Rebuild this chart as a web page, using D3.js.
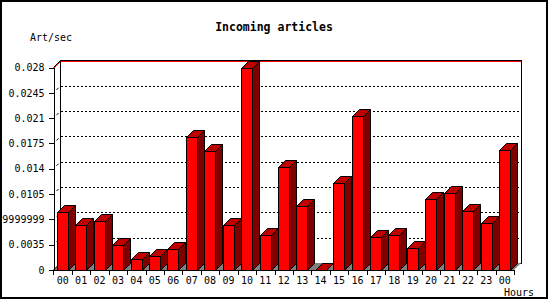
<!DOCTYPE html>
<html>
<head>
<meta charset="utf-8">
<script src="https://cdn.jsdelivr.net/npm/d3@7"></script>
<style>
  body { margin: 0; background: #fff; }
  svg { display: block; }
  text { font-family: "DejaVu Sans Mono", "Liberation Mono", monospace; }
</style>
</head>
<body>
<svg id="chart" width="550" height="300"></svg>
<script>
// chart data
const hours = ['00', '01', '02', '03', '04', '05', '06', '07', '08', '09', '10', '11',
               '12', '13', '14', '15', '16', '17', '18', '19', '20', '21', '22', '23', '00'];
const rates = [0.0080, 0.0062, 0.0068, 0.0034, 0.0015, 0.0020, 0.0029, 0.0184, 0.0164, 0.0062,
               0.0279, 0.0048, 0.0142, 0.0089, 0, 0.0120, 0.0213, 0.0045, 0.0048, 0.0031,
               0.0098, 0.0106, 0.0081, 0.0065, 0.0166];
const y_ticks = [0, 0.0035, 0.007, 0.0105, 0.014, 0.0175, 0.021, 0.0245, 0.028];
const y_tick_labels = ['0', '0.0035', '0.0069999999', '0.0105', '0.014', '0.0175', '0.021', '0.0245', '0.028'];

const title = 'Incoming articles';
const y_title = 'Art/sec';
const x_title = 'Hours';

const width = 550, height = 300;
const plot = {left: 53.5, right: 514, top: 67.5, bottom: 270};
const depth = 7;
const bar_width = 11;
const bar_offset = 3.4;

const svg = d3.select('#chart');

// outer frame
svg.append('rect')
    .attr('x', 1).attr('y', 1)
    .attr('width', 546).attr('height', 297)
    .attr('fill', 'white').attr('stroke', 'black').attr('stroke-width', 2);

const x = d3.scaleBand()
    .domain(d3.range(hours.length))
    .range([plot.left, plot.right])
    .padding(0);
const y = d3.scaleLinear()
    .domain([0, y_ticks[y_ticks.length - 1]])
    .range([plot.bottom, plot.top]);

// back wall
const back = {x0: plot.left + depth, x1: plot.right + depth, y0: plot.top - depth, y1: plot.bottom - depth};
svg.append('rect')
    .attr('x', back.x0).attr('y', back.y0)
    .attr('width', back.x1 - back.x0).attr('height', back.y1 - back.y0)
    .attr('fill', 'white').attr('stroke', 'black').attr('shape-rendering', 'crispEdges');
svg.append('line')
    .attr('x1', back.x0).attr('x2', back.x1)
    .attr('y1', back.y0 + 1).attr('y2', back.y0 + 1)
    .attr('stroke', 'red').attr('shape-rendering', 'crispEdges');
svg.append('line')
    .attr('x1', plot.left).attr('y1', plot.top)
    .attr('x2', back.x0).attr('y2', back.y0)
    .attr('stroke', 'black');
svg.append('line')
    .attr('x1', plot.left).attr('y1', plot.top + 1)
    .attr('x2', back.x0).attr('y2', back.y0 + 1)
    .attr('stroke', 'red');

// dotted grid on the back wall
svg.append('g').selectAll('line')
    .data(y_ticks.slice(1, -1))
    .join('line')
    .attr('x1', back.x0).attr('x2', back.x1)
    .attr('y1', d => Math.round(y(d) - depth) + 0.5)
    .attr('y2', d => Math.round(y(d) - depth) + 0.5)
    .attr('stroke', 'black')
    .attr('stroke-dasharray', '2,2')
    .attr('shape-rendering', 'crispEdges');

// little depth marks between axis and wall
svg.append('g').selectAll('line')
    .data(y_ticks.slice(1, -1))
    .join('line')
    .attr('x1', plot.left + 3).attr('y1', d => y(d) - 3)
    .attr('x2', plot.left + 5).attr('y2', d => y(d) - 5)
    .attr('stroke', 'black');

// floor
svg.append('path')
    .attr('d', `M${plot.left},${plot.bottom}L${back.x0},${back.y1}L${back.x1},${back.y1}L${plot.right},${plot.bottom}Z`)
    .attr('fill', '#808080');
svg.append('line')
    .attr('x1', plot.left).attr('y1', plot.bottom)
    .attr('x2', back.x0).attr('y2', back.y1)
    .attr('stroke', 'black');

// bars
const bars = svg.append('g')
    .attr('stroke', 'black')
    .attr('stroke-width', 1)
    .attr('stroke-linejoin', 'miter');

rates.forEach((v, i) => {
    const x0 = Math.round(x(i) + bar_offset) + 0.5;
    const x1 = x0 + bar_width;
    const y0 = Math.round(y(v)) + 0.5;
    const base = plot.bottom + 0.5;
    const g = bars.append('g');
    g.append('path')
        .attr('d', `M${x1},${base}L${x1},${y0}L${x1 + depth},${y0 - depth}L${x1 + depth},${base - depth}Z`)
        .attr('fill', '#800000');
    g.append('path')
        .attr('d', `M${x0},${y0}L${x0 + depth},${y0 - depth}L${x1 + depth},${y0 - depth}L${x1},${y0}Z`)
        .attr('fill', '#c00000');
    g.append('rect')
        .attr('x', x0).attr('y', y0)
        .attr('width', bar_width).attr('height', Math.max(0, base - y0))
        .attr('fill', 'red');
});

// y axis
const y_axis = svg.append('g')
    .attr('transform', `translate(${plot.left},0)`)
    .call(d3.axisLeft(y)
        .tickValues(y_ticks)
        .tickFormat((d, i) => y_tick_labels[i])
        .tickSizeInner(5)
        .tickSizeOuter(0)
        .tickPadding(4));
y_axis.selectAll('text')
    .attr('font-family', '"DejaVu Sans Mono", monospace')
    .attr('font-size', 10)
    .attr('fill', 'black');
y_axis.selectAll('line, path').attr('shape-rendering', 'crispEdges');

// x axis: labels centred in each band, ticks on band edges
const x_axis = svg.append('g')
    .attr('transform', `translate(0,${plot.bottom})`)
    .call(d3.axisBottom(x)
        .tickFormat(i => hours[i])
        .tickSize(0)
        .tickPadding(7));
x_axis.select('.domain').attr('shape-rendering', 'crispEdges');
x_axis.selectAll('text')
    .attr('font-family', '"DejaVu Sans Mono", monospace')
    .attr('font-size', 10)
    .attr('fill', 'black');
svg.append('g').selectAll('line')
    .data(d3.range(hours.length + 1))
    .join('line')
    .attr('x1', i => Math.round(i < hours.length ? x(i) : plot.right) + 0.5)
    .attr('x2', i => Math.round(i < hours.length ? x(i) : plot.right) + 0.5)
    .attr('y1', plot.bottom).attr('y2', plot.bottom + 5)
    .attr('stroke', 'black')
    .attr('shape-rendering', 'crispEdges');

// titles
svg.append('text')
    .attr('x', 274).attr('y', 31)
    .attr('text-anchor', 'middle')
    .attr('font-size', 11.5)
    .attr('font-weight', 'bold')
    .text(title);
svg.append('text')
    .attr('x', 30).attr('y', 41)
    .attr('font-size', 10)
    .text(y_title);
svg.append('text')
    .attr('x', 534).attr('y', 296)
    .attr('text-anchor', 'end')
    .attr('font-size', 10)
    .text(x_title);
</script>
</body>
</html>
